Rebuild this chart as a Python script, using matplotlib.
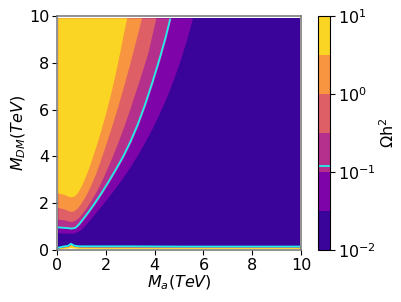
import matplotlib
matplotlib.use("Agg")
import matplotlib.pyplot as plt
from matplotlib.colors import ListedColormap, LogNorm
from matplotlib.cm import ScalarMappable

# Omega h^2 contour levels (half decades) and the observed value
LEVELS = [1e-2, 10**-1.5, 1e-1, 10**-0.5, 1e0, 10**0.5, 1e1]
OMEGA_OBS = 0.12

# extent of the scan (TeV)
MA_MIN, MA_MAX = 0.05, 9.95
MDM_MIN, MDM_MAX = 0.06, 9.9

# level boundaries, (M_a, M_DM) in TeV
# 10^-1.5
b1_ma = [0.05, 0.4, 0.7, 0.95, 1.2, 1.5, 1.8, 2.1, 2.4, 2.7, 3.0, 3.3,
         3.6, 3.9, 4.2, 4.5, 4.8, 5.1, 5.35, 5.57]
b1_mdm = [0.72, 0.7, 0.7, 0.82, 1.08, 1.45, 1.83, 2.22, 2.63, 3.06, 3.52, 4.02,
          4.56, 5.15, 5.8, 6.5, 7.3, 8.2, 9.05, 9.9]
# 10^-1
b2_ma = [0.05, 0.3, 0.6, 0.78, 0.95, 1.25, 1.55, 1.85, 2.15, 2.45, 2.75, 3.05,
         3.35, 3.65, 3.95, 4.25, 4.5, 4.69]
b2_mdm = [0.93, 0.91, 0.88, 0.91, 1.07, 1.47, 1.9, 2.37, 2.87, 3.4, 3.95, 4.59,
          5.32, 6.17, 7.12, 8.14, 9.07, 9.9]
# 10^-0.5
b3_ma = [0.05, 0.3, 0.55, 0.7, 0.85, 1.0, 1.2, 1.4, 1.6, 1.8, 2.0, 2.25,
         2.5, 2.75, 3.0, 3.25, 3.5, 3.75, 4.07]
b3_mdm = [1.3, 1.27, 1.2, 1.22, 1.32, 1.48, 1.76, 2.08, 2.44, 2.84, 3.3, 3.9,
          4.55, 5.25, 6.0, 6.8, 7.6, 8.45, 9.9]
# 10^0
b4_ma = [0.05, 0.3, 0.55, 0.7, 0.85, 1.0, 1.2, 1.4, 1.6, 1.8, 2.0, 2.25,
         2.5, 2.75, 3.0, 3.25, 3.48]
b4_mdm = [1.8, 1.74, 1.63, 1.65, 1.78, 1.98, 2.33, 2.75, 3.25, 3.83, 4.45, 5.25,
          6.1, 7.0, 7.95, 8.95, 9.9]
# 10^0.5
b5_ma = [0.05, 0.3, 0.55, 0.7, 0.85, 1.0, 1.15, 1.3, 1.45, 1.6, 1.8, 2.0,
         2.2, 2.4, 2.6, 2.75, 2.87]
b5_mdm = [2.42, 2.36, 2.25, 2.27, 2.42, 2.7, 3.05, 3.45, 3.9, 4.37, 5.05, 5.8,
          6.6, 7.5, 8.5, 9.3, 9.9]

# Omega h^2 = 0.12 line
obs_ma = [0.05, 0.3, 0.6, 0.75, 0.9, 1.2, 1.5, 1.8, 2.1, 2.4, 2.7, 3.0,
          3.3, 3.6, 3.9, 4.2, 4.45, 4.63]
obs_mdm = [0.97, 0.95, 0.92, 0.95, 1.1, 1.5, 1.93, 2.4, 2.9, 3.43, 3.98, 4.62,
           5.35, 6.2, 7.15, 8.17, 9.1, 9.85]

# thin strip at small M_DM
bot_ma = [0.05, 0.25, 0.45, 0.57, 0.7, 0.9, 1.5, 3.0, 5.0, 7.0, 9.95]
bot_b1 = [0.12, 0.17, 0.2, 0.29, 0.21, 0.18, 0.18, 0.18, 0.17, 0.17, 0.17]
bot_obs = [0.1, 0.15, 0.18, 0.27, 0.19, 0.16, 0.16, 0.16, 0.15, 0.15, 0.15]
bot_b4 = [0.09, 0.13, 0.15, 0.24, 0.16, 0.135, 0.13, 0.13, 0.13, 0.13, 0.13]
bot_b5 = [0.08, 0.12, 0.14, 0.23, 0.15, 0.12, 0.12, 0.12, 0.115, 0.115, 0.115]
bot_top = [0.06, 0.07, 0.08, 0.1, 0.08, 0.07, 0.07, 0.07, 0.07, 0.07, 0.07]

cmap_full = plt.get_cmap("plasma")
n_bands = len(LEVELS) - 1
COLORS = [cmap_full((i + 0.5) / n_bands) for i in range(n_bands)]
OBS_COLOR = "#22eeee"
FS = 11.5

fig = plt.figure(figsize=(4.02, 3.02), dpi=100)
ax = fig.add_axes([0.142, 0.172, 0.607, 0.775])
cax = fig.add_axes([0.791, 0.172, 0.031, 0.775])

# background band (lowest level)
ax.fill([MA_MIN, MA_MAX, MA_MAX, MA_MIN], [MDM_MIN, MDM_MIN, MDM_MAX, MDM_MAX],
        color=COLORS[0], lw=0)

bounds = [(b1_ma, b1_mdm), (b2_ma, b2_mdm), (b3_ma, b3_mdm),
          (b4_ma, b4_mdm), (b5_ma, b5_mdm)]
for k, (bx, by) in enumerate(bounds):
    xs = list(bx) + [MA_MIN]
    ys = list(by) + [MDM_MAX]
    ax.fill(xs, ys, color=COLORS[k + 1], lw=0)

ax.plot(obs_ma, obs_mdm, color=OBS_COLOR, lw=1.3)

# bottom strip
ax.fill_between(bot_ma, MDM_MIN, bot_b1, color=COLORS[1], lw=0)
ax.fill_between(bot_ma, MDM_MIN, bot_b4, color=COLORS[4], lw=0)
ax.fill_between(bot_ma, MDM_MIN, bot_b5, color=COLORS[5], lw=0)
ax.fill_between(bot_ma, 0, bot_top, color="white", lw=0)
ax.plot(bot_ma, bot_obs, color=OBS_COLOR, lw=1.3)

ax.set_xlim(0, 10)
ax.set_ylim(0, 10)
ax.set_xticks([0, 2, 4, 6, 8, 10])
ax.set_yticks([0, 2, 4, 6, 8, 10])
ax.tick_params(labelsize=FS, pad=2)
ax.set_xlabel("$M_a(TeV)$", fontsize=FS, labelpad=1)
ax.set_ylabel("$M_{DM}(TeV)$", fontsize=FS, labelpad=1)
for sp in ax.spines.values():
    sp.set_color("0.45")
    sp.set_linewidth(1.1)

sm = ScalarMappable(norm=LogNorm(LEVELS[0], LEVELS[-1]),
                    cmap=ListedColormap(COLORS))
cbar = fig.colorbar(sm, cax=cax)
cbar.ax.minorticks_off()
cbar.ax.tick_params(labelsize=FS, pad=2)
cbar.ax.axhline(OMEGA_OBS, color=OBS_COLOR, lw=1.3)
cbar.set_label("Ωh$^2$", fontsize=FS, labelpad=2)
cbar.outline.set_linewidth(0.8)

fig.savefig("out.png", dpi=100)
